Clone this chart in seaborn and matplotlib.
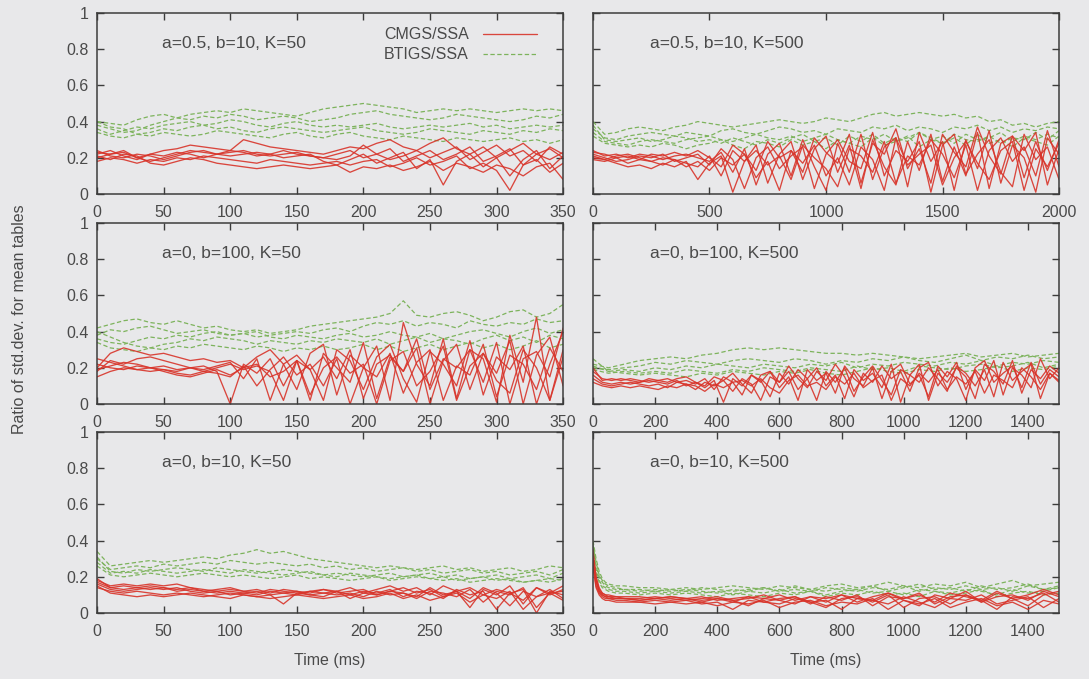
import matplotlib
matplotlib.use("Agg")
import matplotlib.pyplot as plt
import seaborn as sns
import numpy as np

# ---------------- data ----------------
time_p1 = list(range(0, 351, 10))
time_p2 = list(range(0, 2001, 50))
time_p3 = list(range(0, 351, 10))
time_p4_green = list(range(0, 1501, 50))
time_p4_red = list(range(0, 1501, 30))
time_p5 = list(range(0, 351, 10))
time_p6 = [0, 10, 20, 30, 40, 50, 75, 100] + list(range(150, 1501, 50))

panel_titles = ["a=0.5, b=10, K=50", "a=0.5, b=10, K=500",
                "a=0, b=100, K=50", "a=0, b=100, K=500",
                "a=0, b=10, K=50", "a=0, b=10, K=500"]
series_names = ["CMGS/SSA", "BTIGS/SSA"]

p1_green = [
    [0.40,0.39,0.38,0.41,0.43,0.44,0.42,0.44,0.45,0.46,0.45,0.47,0.46,0.45,0.44,0.43,0.45,0.47,0.48,0.49,0.50,0.49,0.48,0.47,0.45,0.46,0.47,0.46,0.47,0.46,0.45,0.46,0.47,0.46,0.47,0.46],
    [0.38,0.36,0.34,0.35,0.38,0.40,0.42,0.41,0.43,0.42,0.44,0.43,0.41,0.42,0.43,0.42,0.40,0.41,0.42,0.44,0.45,0.46,0.44,0.43,0.42,0.41,0.42,0.44,0.43,0.42,0.41,0.40,0.41,0.43,0.42,0.44],
    [0.36,0.33,0.35,0.37,0.36,0.38,0.39,0.40,0.38,0.39,0.41,0.40,0.38,0.37,0.39,0.40,0.38,0.37,0.38,0.37,0.38,0.39,0.37,0.36,0.37,0.38,0.37,0.38,0.39,0.37,0.38,0.36,0.37,0.38,0.37,0.38],
    [0.40,0.37,0.36,0.33,0.34,0.36,0.35,0.37,0.38,0.36,0.37,0.35,0.34,0.36,0.37,0.36,0.35,0.34,0.35,0.36,0.37,0.35,0.34,0.33,0.34,0.36,0.35,0.34,0.33,0.35,0.34,0.33,0.35,0.34,0.36,0.35],
    [0.34,0.32,0.31,0.33,0.32,0.34,0.33,0.32,0.33,0.35,0.34,0.33,0.32,0.31,0.33,0.34,0.32,0.31,0.33,0.34,0.32,0.31,0.30,0.32,0.31,0.30,0.29,0.31,0.30,0.29,0.30,0.31,0.29,0.30,0.28,0.30],
]
p1_red = [
    [0.22,0.24,0.21,0.19,0.22,0.24,0.25,0.27,0.26,0.25,0.24,0.30,0.28,0.26,0.25,0.24,0.23,0.22,0.24,0.26,0.25,0.28,0.30,0.26,0.24,0.28,0.31,0.25,0.22,0.26,0.20,0.24,0.28,0.22,0.25,0.20],
    [0.20,0.22,0.23,0.20,0.18,0.20,0.22,0.24,0.23,0.22,0.23,0.24,0.22,0.21,0.22,0.23,0.21,0.20,0.22,0.24,0.20,0.22,0.25,0.18,0.21,0.24,0.19,0.22,0.26,0.18,0.21,0.25,0.16,0.22,0.19,0.23],
    [0.24,0.21,0.20,0.22,0.21,0.19,0.21,0.23,0.24,0.22,0.21,0.22,0.23,0.22,0.20,0.21,0.22,0.18,0.16,0.19,0.22,0.17,0.20,0.23,0.14,0.19,0.05,0.18,0.22,0.15,0.20,0.10,0.19,0.24,0.14,0.21],
    [0.18,0.20,0.19,0.17,0.19,0.18,0.20,0.19,0.21,0.20,0.19,0.18,0.17,0.19,0.18,0.17,0.16,0.17,0.18,0.16,0.18,0.19,0.15,0.17,0.20,0.16,0.18,0.21,0.14,0.17,0.13,0.02,0.16,0.19,0.12,0.17],
    [0.21,0.19,0.22,0.21,0.17,0.16,0.18,0.20,0.19,0.17,0.16,0.15,0.14,0.15,0.16,0.15,0.14,0.15,0.16,0.12,0.15,0.14,0.16,0.13,0.15,0.18,0.13,0.17,0.15,0.12,0.16,0.14,0.10,0.15,0.17,0.08],
    [0.23,0.22,0.24,0.20,0.22,0.21,0.23,0.22,0.20,0.22,0.24,0.23,0.21,0.22,0.24,0.22,0.21,0.20,0.19,0.21,0.27,0.22,0.19,0.21,0.24,0.20,0.23,0.26,0.19,0.23,0.27,0.21,0.24,0.18,0.26,0.22],
]

p2_green = [
    [0.40,0.33,0.34,0.36,0.37,0.36,0.35,0.37,0.38,0.40,0.39,0.38,0.37,0.38,0.39,0.40,0.41,0.40,0.39,0.40,0.42,0.41,0.40,0.42,0.44,0.45,0.43,0.44,0.45,0.44,0.43,0.44,0.42,0.43,0.40,0.41,0.38,0.39,0.37,0.39,0.40],
    [0.36,0.31,0.30,0.32,0.33,0.34,0.33,0.32,0.34,0.33,0.32,0.35,0.36,0.34,0.33,0.35,0.37,0.36,0.34,0.35,0.33,0.36,0.35,0.34,0.37,0.36,0.38,0.35,0.37,0.36,0.34,0.37,0.36,0.38,0.35,0.37,0.34,0.36,0.35,0.37,0.36],
    [0.34,0.29,0.28,0.27,0.29,0.30,0.29,0.28,0.30,0.31,0.32,0.30,0.29,0.31,0.33,0.31,0.30,0.32,0.29,0.31,0.33,0.30,0.28,0.32,0.30,0.33,0.29,0.31,0.34,0.30,0.32,0.28,0.33,0.30,0.31,0.34,0.29,0.32,0.30,0.33,0.31],
    [0.32,0.28,0.27,0.26,0.27,0.26,0.28,0.27,0.25,0.27,0.28,0.30,0.27,0.25,0.29,0.28,0.26,0.30,0.27,0.29,0.25,0.30,0.28,0.26,0.31,0.27,0.29,0.32,0.26,0.30,0.28,0.31,0.27,0.33,0.28,0.30,0.26,0.31,0.29,0.27,0.32],
    [0.38,0.30,0.29,0.30,0.31,0.29,0.30,0.32,0.31,0.29,0.30,0.28,0.31,0.29,0.27,0.30,0.28,0.31,0.33,0.29,0.31,0.27,0.32,0.29,0.33,0.28,0.31,0.29,0.34,0.31,0.28,0.33,0.30,0.29,0.32,0.28,0.31,0.30,0.34,0.30,0.35],
]
p2_red = [
    [0.24,0.21,0.22,0.20,0.22,0.21,0.19,0.21,0.22,0.20,0.18,0.23,0.12,0.25,0.05,0.22,0.28,0.10,0.30,0.15,0.02,0.28,0.12,0.33,0.08,0.26,0.31,0.04,0.34,0.18,0.29,0.02,0.30,0.14,0.35,0.06,0.27,0.20,0.01,0.31,0.22],
    [0.20,0.19,0.21,0.22,0.20,0.18,0.20,0.19,0.17,0.15,0.21,0.10,0.24,0.18,0.27,0.06,0.22,0.29,0.08,0.25,0.32,0.12,0.27,0.03,0.30,0.15,0.05,0.29,0.13,0.33,0.07,0.26,0.10,0.34,0.03,0.28,0.32,0.09,0.29,0.13,0.30],
    [0.22,0.20,0.18,0.19,0.21,0.20,0.22,0.18,0.20,0.22,0.16,0.25,0.19,0.03,0.20,0.26,0.14,0.21,0.26,0.03,0.22,0.30,0.18,0.14,0.34,0.10,0.24,0.18,0.29,0.01,0.27,0.33,0.11,0.22,0.30,0.12,0.04,0.33,0.19,0.26,0.08],
    [0.19,0.18,0.20,0.17,0.19,0.18,0.16,0.19,0.15,0.18,0.13,0.20,0.16,0.22,0.09,0.18,0.02,0.24,0.17,0.27,0.10,0.20,0.05,0.26,0.19,0.02,0.31,0.16,0.22,0.27,0.05,0.20,0.29,0.17,0.08,0.24,0.29,0.02,0.25,0.15,0.28],
    [0.21,0.19,0.17,0.15,0.16,0.14,0.17,0.15,0.18,0.08,0.17,0.21,0.01,0.18,0.24,0.16,0.21,0.08,0.27,0.20,0.14,0.04,0.25,0.21,0.12,0.29,0.06,0.21,0.16,0.30,0.22,0.09,0.27,0.02,0.24,0.31,0.18,0.26,0.10,0.35,0.15],
    [0.23,0.22,0.20,0.21,0.19,0.22,0.21,0.23,0.21,0.24,0.20,0.15,0.27,0.22,0.13,0.29,0.20,0.24,0.12,0.31,0.23,0.17,0.33,0.06,0.28,0.22,0.36,0.14,0.25,0.06,0.33,0.23,0.15,0.37,0.21,0.11,0.32,0.24,0.34,0.05,0.25],
]

p3_green = [
    [0.42,0.44,0.46,0.47,0.45,0.44,0.46,0.44,0.42,0.43,0.41,0.40,0.41,0.39,0.40,0.41,0.43,0.44,0.45,0.46,0.47,0.48,0.50,0.57,0.49,0.48,0.50,0.51,0.49,0.46,0.48,0.51,0.52,0.48,0.50,0.55],
    [0.38,0.41,0.40,0.42,0.43,0.41,0.39,0.40,0.41,0.39,0.38,0.39,0.37,0.38,0.39,0.40,0.39,0.41,0.42,0.40,0.43,0.45,0.44,0.46,0.43,0.45,0.44,0.42,0.46,0.44,0.43,0.45,0.44,0.47,0.45,0.46],
    [0.36,0.34,0.33,0.35,0.37,0.36,0.38,0.37,0.39,0.40,0.38,0.39,0.40,0.37,0.36,0.38,0.37,0.36,0.38,0.39,0.37,0.38,0.40,0.38,0.37,0.39,0.36,0.38,0.40,0.41,0.39,0.37,0.40,0.42,0.39,0.41],
    [0.40,0.37,0.34,0.32,0.31,0.33,0.34,0.36,0.35,0.37,0.36,0.35,0.33,0.35,0.34,0.33,0.35,0.34,0.36,0.35,0.34,0.36,0.33,0.35,0.37,0.34,0.36,0.35,0.33,0.36,0.38,0.35,0.37,0.34,0.38,0.36],
    [0.34,0.31,0.30,0.29,0.31,0.30,0.32,0.31,0.33,0.32,0.31,0.30,0.32,0.31,0.29,0.31,0.30,0.32,0.30,0.31,0.33,0.30,0.32,0.29,0.31,0.33,0.30,0.32,0.34,0.31,0.33,0.30,0.32,0.35,0.31,0.33],
]
p3_red = [
    [0.20,0.28,0.31,0.29,0.27,0.28,0.26,0.24,0.25,0.23,0.24,0.20,0.26,0.30,0.22,0.08,0.28,0.33,0.05,0.27,0.20,0.32,0.02,0.45,0.22,0.10,0.36,0.03,0.30,0.25,0.01,0.38,0.12,0.48,0.02,0.30],
    [0.18,0.24,0.22,0.25,0.26,0.24,0.22,0.20,0.21,0.18,0.00,0.22,0.17,0.25,0.10,0.24,0.02,0.28,0.20,0.12,0.34,0.03,0.26,0.18,0.31,0.00,0.24,0.33,0.08,0.28,0.17,0.35,0.00,0.27,0.37,0.10],
    [0.22,0.20,0.19,0.21,0.20,0.19,0.18,0.20,0.19,0.21,0.23,0.14,0.25,0.02,0.22,0.27,0.19,0.02,0.30,0.24,0.08,0.26,0.33,0.14,0.01,0.29,0.22,0.10,0.35,0.05,0.26,0.19,0.32,0.00,0.22,0.40],
    [0.15,0.18,0.20,0.19,0.18,0.19,0.17,0.16,0.18,0.17,0.15,0.21,0.10,0.19,0.26,0.16,0.22,0.10,0.25,0.00,0.20,0.15,0.28,0.06,0.23,0.30,0.02,0.21,0.16,0.33,0.04,0.27,0.22,0.08,0.31,0.18],
    [0.25,0.23,0.21,0.19,0.20,0.18,0.16,0.15,0.17,0.19,0.16,0.20,0.22,0.15,0.18,0.24,0.05,0.20,0.26,0.17,0.22,0.00,0.24,0.29,0.10,0.18,0.32,0.02,0.21,0.28,0.13,0.06,0.30,0.20,0.02,0.26],
    [0.19,0.21,0.23,0.22,0.20,0.21,0.19,0.20,0.18,0.20,0.22,0.19,0.21,0.18,0.02,0.24,0.19,0.26,0.14,0.30,0.03,0.22,0.27,0.18,0.36,0.08,0.25,0.20,0.30,0.12,0.34,0.00,0.25,0.29,0.15,0.42],
]

p4_green = [
    [0.22,0.20,0.22,0.24,0.25,0.26,0.25,0.27,0.28,0.30,0.31,0.30,0.31,0.30,0.29,0.28,0.28,0.27,0.28,0.27,0.26,0.25,0.26,0.27,0.28,0.26,0.27,0.28,0.26,0.27,0.28],
    [0.20,0.19,0.20,0.21,0.23,0.22,0.24,0.23,0.22,0.24,0.25,0.24,0.23,0.25,0.24,0.22,0.24,0.23,0.25,0.24,0.26,0.24,0.23,0.25,0.27,0.24,0.26,0.25,0.27,0.25,0.26],
    [0.25,0.18,0.19,0.18,0.20,0.19,0.21,0.20,0.22,0.21,0.20,0.22,0.21,0.20,0.22,0.21,0.23,0.20,0.22,0.21,0.23,0.22,0.21,0.23,0.22,0.24,0.21,0.23,0.22,0.24,0.23],
    [0.19,0.17,0.18,0.17,0.18,0.17,0.19,0.18,0.17,0.19,0.18,0.20,0.19,0.18,0.20,0.19,0.18,0.21,0.19,0.20,0.18,0.21,0.20,0.19,0.21,0.22,0.20,0.21,0.23,0.20,0.22],
    [0.21,0.18,0.17,0.16,0.17,0.16,0.15,0.17,0.16,0.18,0.17,0.16,0.18,0.17,0.19,0.17,0.16,0.18,0.20,0.18,0.17,0.19,0.18,0.20,0.18,0.19,0.21,0.18,0.20,0.19,0.21],
]
p4_red = [
    [0.20,0.13,0.14,0.13,0.14,0.13,0.12,0.13,0.14,0.12,0.13,0.11,0.14,0.08,0.15,0.12,0.05,0.16,0.12,0.18,0.09,0.15,0.02,0.19,0.13,0.17,0.06,0.21,0.14,0.10,0.20,0.03,0.18,0.22,0.11,0.16,0.04,0.21,0.15,0.23,0.08,0.19,0.13,0.24,0.05,0.20,0.16,0.09,0.25,0.14,0.20],
    [0.16,0.12,0.11,0.12,0.11,0.12,0.13,0.12,0.11,0.13,0.10,0.12,0.09,0.13,0.01,0.14,0.10,0.16,0.13,0.04,0.17,0.11,0.19,0.14,0.02,0.18,0.12,0.20,0.07,0.15,0.21,0.13,0.05,0.19,0.16,0.22,0.02,0.17,0.12,0.20,0.15,0.03,0.22,0.18,0.11,0.24,0.06,0.19,0.14,0.21,0.17],
    [0.14,0.11,0.10,0.11,0.12,0.11,0.10,0.11,0.09,0.12,0.11,0.08,0.12,0.10,0.13,0.07,0.14,0.11,0.02,0.15,0.12,0.18,0.08,0.14,0.20,0.10,0.16,0.03,0.19,0.13,0.17,0.09,0.22,0.01,0.16,0.12,0.20,0.14,0.07,0.21,0.17,0.10,0.19,0.04,0.23,0.13,0.18,0.22,0.03,0.17,0.12],
    [0.18,0.14,0.13,0.14,0.13,0.12,0.14,0.13,0.12,0.14,0.15,0.12,0.10,0.15,0.13,0.17,0.11,0.06,0.16,0.18,0.12,0.21,0.14,0.09,0.18,0.13,0.22,0.15,0.04,0.17,0.12,0.21,0.14,0.18,0.07,0.20,0.23,0.10,0.18,0.14,0.02,0.20,0.24,0.12,0.17,0.21,0.09,0.23,0.11,0.19,0.15],
    [0.12,0.10,0.09,0.10,0.09,0.10,0.09,0.08,0.10,0.09,0.11,0.10,0.07,0.11,0.09,0.12,0.13,0.10,0.14,0.09,0.06,0.13,0.16,0.10,0.12,0.08,0.15,0.11,0.17,0.09,0.13,0.16,0.02,0.14,0.10,0.17,0.12,0.19,0.08,0.15,0.11,0.18,0.06,0.16,0.13,0.09,0.20,0.15,0.08,0.17,0.13],
]

p5_green = [
    [0.34,0.26,0.27,0.28,0.29,0.28,0.29,0.30,0.31,0.30,0.32,0.33,0.35,0.33,0.34,0.32,0.30,0.29,0.28,0.27,0.26,0.25,0.26,0.25,0.24,0.25,0.26,0.24,0.25,0.23,0.24,0.25,0.23,0.24,0.26,0.25],
    [0.30,0.24,0.25,0.26,0.25,0.27,0.26,0.27,0.28,0.27,0.29,0.28,0.27,0.28,0.27,0.26,0.27,0.25,0.26,0.24,0.25,0.23,0.24,0.25,0.23,0.24,0.22,0.23,0.24,0.22,0.23,0.21,0.22,0.23,0.21,0.24],
    [0.28,0.22,0.23,0.22,0.24,0.23,0.22,0.23,0.24,0.23,0.22,0.24,0.23,0.22,0.21,0.22,0.23,0.21,0.22,0.21,0.20,0.21,0.22,0.20,0.21,0.22,0.20,0.21,0.19,0.20,0.21,0.19,0.20,0.21,0.19,0.22],
    [0.26,0.21,0.20,0.21,0.22,0.21,0.20,0.21,0.22,0.21,0.20,0.21,0.20,0.19,0.20,0.21,0.19,0.20,0.19,0.18,0.19,0.20,0.18,0.19,0.20,0.19,0.18,0.19,0.17,0.18,0.19,0.18,0.17,0.18,0.19,0.18],
    [0.31,0.23,0.22,0.24,0.23,0.24,0.25,0.24,0.23,0.25,0.24,0.23,0.22,0.23,0.24,0.23,0.22,0.21,0.20,0.22,0.21,0.20,0.19,0.20,0.21,0.19,0.20,0.18,0.19,0.20,0.18,0.19,0.17,0.18,0.17,0.19],
]
p5_red = [
    [0.18,0.15,0.16,0.15,0.16,0.15,0.16,0.14,0.13,0.12,0.13,0.12,0.13,0.11,0.13,0.12,0.11,0.13,0.12,0.14,0.11,0.13,0.15,0.12,0.14,0.10,0.15,0.12,0.03,0.13,0.10,0.15,0.05,0.14,0.11,0.15],
    [0.16,0.13,0.12,0.13,0.14,0.13,0.14,0.12,0.11,0.12,0.10,0.11,0.12,0.10,0.11,0.12,0.10,0.11,0.12,0.10,0.12,0.11,0.13,0.09,0.12,0.11,0.08,0.13,0.10,0.12,0.02,0.11,0.13,0.00,0.12,0.10],
    [0.14,0.12,0.11,0.12,0.11,0.10,0.11,0.10,0.09,0.10,0.11,0.10,0.09,0.10,0.05,0.11,0.10,0.09,0.12,0.08,0.11,0.10,0.12,0.11,0.09,0.14,0.10,0.12,0.08,0.14,0.11,0.04,0.12,0.09,0.13,0.08],
    [0.19,0.14,0.15,0.14,0.13,0.14,0.12,0.13,0.12,0.11,0.12,0.11,0.10,0.12,0.11,0.10,0.12,0.11,0.10,0.11,0.09,0.12,0.10,0.11,0.08,0.12,0.11,0.09,0.13,0.06,0.12,0.10,0.14,0.03,0.11,0.12],
    [0.15,0.11,0.10,0.09,0.10,0.09,0.10,0.11,0.10,0.09,0.08,0.10,0.09,0.08,0.09,0.10,0.09,0.08,0.09,0.10,0.08,0.09,0.11,0.08,0.10,0.07,0.09,0.11,0.06,0.10,0.08,0.12,0.02,0.09,0.11,0.07],
    [0.17,0.14,0.13,0.14,0.15,0.14,0.13,0.14,0.12,0.13,0.14,0.12,0.11,0.13,0.12,0.11,0.12,0.13,0.11,0.12,0.13,0.10,0.12,0.14,0.11,0.13,0.09,0.12,0.14,0.10,0.13,0.11,0.07,0.14,0.10,0.13],
]

p6_green = [
    [0.40,0.30,0.23,0.19,0.17,0.16,0.15,0.15,0.14,0.14,0.13,0.14,0.13,0.14,0.15,0.14,0.13,0.15,0.14,0.13,0.15,0.16,0.14,0.15,0.17,0.15,0.14,0.16,0.15,0.17,0.14,0.16,0.18,0.15,0.16,0.17],
    [0.36,0.26,0.20,0.17,0.15,0.14,0.13,0.13,0.12,0.13,0.12,0.13,0.12,0.11,0.13,0.12,0.14,0.12,0.13,0.12,0.14,0.13,0.12,0.14,0.13,0.15,0.12,0.14,0.13,0.15,0.13,0.14,0.12,0.15,0.13,0.14],
    [0.33,0.24,0.18,0.15,0.14,0.13,0.12,0.12,0.11,0.12,0.11,0.12,0.11,0.12,0.10,0.12,0.11,0.13,0.11,0.12,0.10,0.12,0.13,0.11,0.12,0.10,0.13,0.12,0.11,0.13,0.12,0.10,0.13,0.11,0.12,0.14],
    [0.30,0.22,0.17,0.14,0.13,0.12,0.11,0.11,0.10,0.11,0.10,0.11,0.10,0.09,0.11,0.10,0.09,0.11,0.10,0.12,0.09,0.11,0.10,0.12,0.10,0.11,0.09,0.12,0.10,0.11,0.13,0.09,0.11,0.12,0.10,0.11],
    [0.38,0.28,0.21,0.18,0.16,0.15,0.14,0.13,0.13,0.12,0.13,0.12,0.14,0.13,0.12,0.13,0.14,0.12,0.15,0.13,0.12,0.14,0.13,0.15,0.12,0.14,0.16,0.13,0.14,0.12,0.15,0.13,0.14,0.16,0.13,0.15],
]
p6_red = [
    [0.35,0.20,0.14,0.11,0.10,0.10,0.09,0.09,0.09,0.08,0.09,0.08,0.09,0.07,0.08,0.09,0.06,0.08,0.09,0.05,0.09,0.07,0.10,0.04,0.09,0.08,0.11,0.05,0.09,0.10,0.06,0.11,0.08,0.04,0.10,0.12],
    [0.30,0.17,0.12,0.10,0.09,0.09,0.08,0.08,0.07,0.08,0.07,0.08,0.06,0.08,0.07,0.04,0.08,0.07,0.09,0.06,0.03,0.08,0.09,0.06,0.10,0.03,0.08,0.09,0.05,0.10,0.07,0.02,0.09,0.08,0.11,0.06],
    [0.28,0.15,0.11,0.09,0.08,0.08,0.07,0.07,0.06,0.07,0.06,0.07,0.05,0.06,0.02,0.07,0.06,0.05,0.08,0.06,0.07,0.02,0.08,0.07,0.05,0.09,0.06,0.03,0.08,0.07,0.10,0.05,0.07,0.09,0.03,0.08],
    [0.33,0.19,0.13,0.11,0.10,0.09,0.09,0.08,0.08,0.09,0.08,0.07,0.08,0.09,0.07,0.08,0.10,0.07,0.05,0.09,0.08,0.10,0.06,0.09,0.11,0.07,0.04,0.10,0.08,0.12,0.06,0.09,0.10,0.07,0.12,0.09],
    [0.25,0.14,0.10,0.08,0.07,0.07,0.06,0.06,0.06,0.05,0.06,0.05,0.06,0.04,0.06,0.05,0.07,0.03,0.06,0.07,0.04,0.06,0.05,0.08,0.02,0.07,0.05,0.08,0.03,0.06,0.08,0.04,0.06,0.02,0.07,0.05],
    [0.31,0.18,0.12,0.10,0.09,0.08,0.08,0.08,0.07,0.08,0.09,0.08,0.07,0.08,0.06,0.09,0.08,0.10,0.07,0.09,0.06,0.10,0.08,0.07,0.11,0.08,0.10,0.06,0.11,0.09,0.07,0.12,0.08,0.10,0.13,0.10],
]

x_ticks_short = [0, 50, 100, 150, 200, 250, 300, 350]
x_ticks_p2 = [0, 500, 1000, 1500, 2000]
x_ticks_long = [0, 200, 400, 600, 800, 1000, 1200, 1400]
y_ticks = [0, 0.2, 0.4, 0.6, 0.8, 1]

# ---------------- style ----------------
sns.set_theme(style="ticks")
BG = "#e8e8ea"
TXT = "#4a4a4a"
plt.rcParams["font.family"] = ["Liberation Sans", "DejaVu Sans"]
plt.rcParams["axes.edgecolor"] = "#3c3c3c"
plt.rcParams["text.color"] = TXT

RED = "#d8342a"
GREEN = "#7db35c"

fig = plt.figure(figsize=(10.89, 6.79), dpi=100, facecolor=BG)

col_left = [0.0891, 0.5445]
col_w = 0.428
row_bottom = [0.7143, 0.4050, 0.0972]
row_h = 0.2666

panels = [
    (time_p1, p1_green, time_p1, p1_red, (0, 350), x_ticks_short),
    (time_p2, p2_green, time_p2, p2_red, (0, 2000), x_ticks_p2),
    (time_p3, p3_green, time_p3, p3_red, (0, 350), x_ticks_short),
    (time_p4_green, p4_green, time_p4_red, p4_red, (0, 1500), x_ticks_long),
    (time_p5, p5_green, time_p5, p5_red, (0, 350), x_ticks_short),
    (time_p6, p6_green, time_p6, p6_red, (0, 1500), x_ticks_long),
]

axes = []
for i, (xg, greens, xr, reds, xlim, xt) in enumerate(panels):
    r, c = divmod(i, 2)
    ax = fig.add_axes([col_left[c], row_bottom[r], col_w, row_h])
    ax.set_facecolor(BG)
    for j, yv in enumerate(greens):
        sns.lineplot(x=xg, y=yv, ax=ax, color=GREEN, lw=0.9,
                     dashes=False, linestyle=(0, (3.5, 2.0)),
                     label=series_names[1] if (i == 0 and j == 0) else None,
                     legend=False)
    for j, yv in enumerate(reds):
        sns.lineplot(x=xr, y=yv, ax=ax, color=RED, lw=0.95, alpha=0.9,
                     label=series_names[0] if (i == 0 and j == 0) else None,
                     legend=False)
    ax.set_xlim(*xlim)
    ax.set_ylim(0, 1)
    ax.set_xticks(xt)
    ax.set_yticks(y_ticks)
    ax.set_yticklabels(["0", "0.2", "0.4", "0.6", "0.8", "1"])
    ax.tick_params(direction="in", top=True, right=True, length=5, width=1,
                   color="#3c3c3c", labelsize=11.5, labelcolor=TXT, pad=6,
                   labelleft=(c == 0))
    ax.tick_params(axis="x", pad=8)
    for s in ax.spines.values():
        s.set_linewidth(1.1)
        s.set_visible(True)
    ax.text(0.14 if c == 0 else 0.123, 0.83, panel_titles[i],
            transform=ax.transAxes, fontsize=12.5, color=TXT,
            ha="left", va="center")
    ax.set_xlabel("")
    ax.set_ylabel("")
    axes.append(ax)

for ax in axes[4:]:
    ax.set_xlabel("Time (ms)", fontsize=11.5, color=TXT, labelpad=10)

# legend in first panel
h, l = axes[0].get_legend_handles_labels()
order = [l.index(series_names[0]), l.index(series_names[1])]
leg = axes[0].legend([h[k] for k in order], [l[k] for k in order],
                     loc="upper right", bbox_to_anchor=(0.945, 0.92),
                     frameon=False, markerfirst=False, fontsize=11.5,
                     handlelength=3.4, handletextpad=0.9, labelspacing=0.3,
                     borderpad=0, borderaxespad=0)
for t in leg.get_texts():
    t.set_color(TXT)

fig.text(0.018, 0.53, "Ratio of std.dev. for mean tables", rotation=90,
         ha="center", va="center", fontsize=11.5, color=TXT)

fig.savefig("out.png", dpi=100, facecolor=BG)
